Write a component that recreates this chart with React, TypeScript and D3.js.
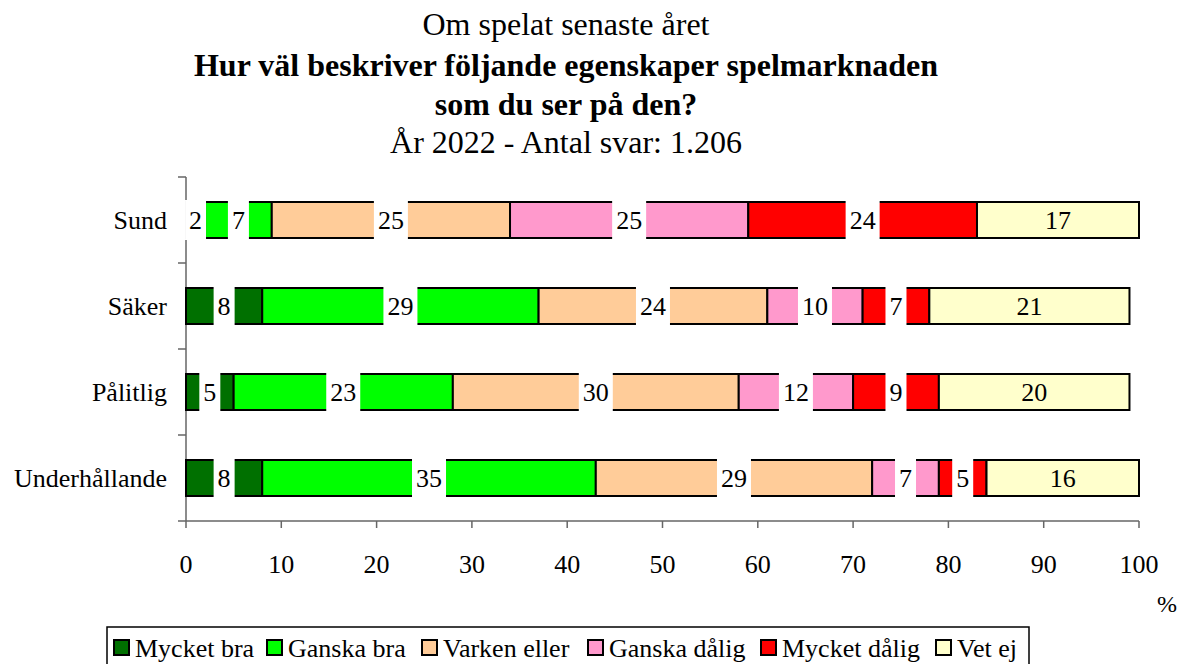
import React from "react";
import * as d3 from "d3";

const categories = ["Sund", "Säker", "Pålitlig", "Underhållande"];
const seriesNames = ["Mycket bra", "Ganska bra", "Varken eller", "Ganska dålig", "Mycket dålig", "Vet ej"];
const seriesColors = ["#007000", "#00ff00", "#ffcc99", "#ff99cc", "#ff0000", "#ffffcc"];
const values: number[][] = [
  [2, 7, 25, 25, 24, 17],
  [8, 29, 24, 10, 7, 21],
  [5, 23, 30, 12, 9, 20],
  [8, 35, 29, 7, 5, 16],
];
const xTicks = [0, 10, 20, 30, 40, 50, 60, 70, 80, 90, 100];
const titleLines = [
  { text: "Om spelat senaste året", bold: false },
  { text: "Hur väl beskriver följande egenskaper spelmarknaden", bold: true },
  { text: "som du ser på den?", bold: true },
  { text: "År 2022 - Antal svar: 1.206", bold: false },
];

const W = 1179;
const H = 664;
const FONT = "'Liberation Serif', 'Times New Roman', serif";

export default function App() {
  const x = d3.scaleLinear().domain([0, 100]).range([186, 1139]);
  const y = d3.scaleBand<string>().domain(categories).range([177, 521]).padding(0);
  const barH = 36;
  const titleY = [35, 76, 115, 153];

  const segments: any[] = [];
  values.forEach((row, ci) => {
    let acc = 0;
    row.forEach((v, si) => {
      segments.push({ ci, si, x0: acc, x1: acc + v, v });
      acc += v;
    });
  });

  const cy = (c: string) => (y(c) as number) + y.bandwidth() / 2;

  const legX = [114, 267, 422, 588, 761, 936];

  return (
    <svg width={W} height={H} style={{ position: "absolute", left: 0, top: 0, background: "#fff" }} fontFamily={FONT}>
      {titleLines.map((t, i) => (
        <text key={i} x={566} y={titleY[i]} textAnchor="middle" fontSize={32} fontWeight={t.bold ? "bold" : "normal"}>
          {t.text}
        </text>
      ))}

      {/* axes */}
      <line x1={186} x2={186} y1={177} y2={521} stroke="#666" strokeWidth={1.5} />
      {categories.map((c, i) => (
        <line key={"yt" + i} x1={178} x2={186} y1={y(c) as number} y2={y(c) as number} stroke="#666" strokeWidth={1.5} />
      ))}
      <line x1={178} x2={1139} y1={521} y2={521} stroke="#666" strokeWidth={1.5} />
      {xTicks.map((t) => (
        <g key={"xt" + t}>
          <line x1={x(t)} x2={x(t)} y1={521} y2={528} stroke="#666" strokeWidth={1.5} />
          <text x={x(t)} y={573} textAnchor="middle" fontSize={26}>{t}</text>
        </g>
      ))}
      <text x={1177} y={612} textAnchor="end" fontSize={24}>%</text>

      {categories.map((c) => (
        <text key={"yl" + c} x={167} y={cy(c)} dy="0.35em" textAnchor="end" fontSize={26}>{c}</text>
      ))}

      {/* bars */}
      {segments.map((s, k) => (
        <rect
          key={"b" + k}
          x={x(s.x0)}
          y={cy(categories[s.ci]) - barH / 2}
          width={x(s.x1) - x(s.x0)}
          height={barH}
          fill={seriesColors[s.si]}
          stroke="#000"
          strokeWidth={2}
        />
      ))}
      {/* labels */}
      {segments.map((s, k) => {
        const cx = x((s.x0 + s.x1) / 2);
        const txt = String(s.v);
        const bw = txt.length * 13 + 8;
        const yy = cy(categories[s.ci]);
        return (
          <g key={"l" + k}>
            {s.si < seriesNames.length - 1 && (
              <rect x={cx - bw / 2} y={yy - barH / 2 - 2} width={bw} height={barH + 4} fill="#fff" />
            )}
            <text x={cx} y={yy} dy="0.35em" textAnchor="middle" fontSize={26}>{txt}</text>
          </g>
        );
      })}

      {/* legend */}
      <rect x={107} y={627} width={922} height={60} fill="#fff" stroke="#000" strokeWidth={1.5} />
      {seriesNames.map((n, i) => (
        <g key={"lg" + i}>
          <rect x={legX[i]} y={640} width={15} height={15} fill={seriesColors[i]} stroke="#000" strokeWidth={2} />
          <text x={legX[i] + 21} y={657} fontSize={26}>{n}</text>
        </g>
      ))}
    </svg>
  );
}
